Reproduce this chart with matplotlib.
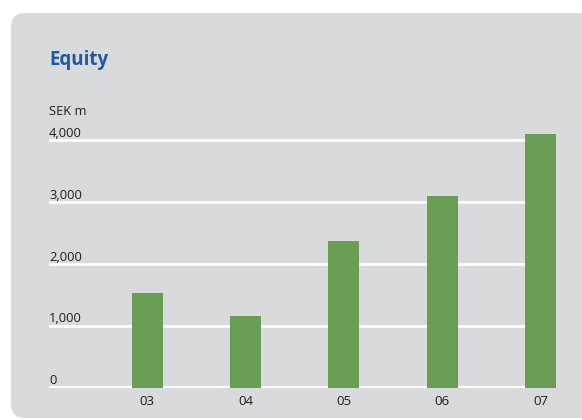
"""Equity bar chart on a rounded grey panel."""

import matplotlib.pyplot as plt
import numpy as np
from matplotlib.patches import FancyBboxPatch
from matplotlib.transforms import IdentityTransform, blended_transform_factory

plt.rcParams["font.family"] = ["Open Sans", "DejaVu Sans"]

years = ["03", "04", "05", "06", "07"]
equity = [1535, 1160, 2375, 3100, 4105]
y_ticks = [0, 1000, 2000, 3000, 4000]
y_labels = ["0", "1,000", "2,000", "3,000", "4,000"]

PANEL = "#d9dadc"
GREEN = "#6a9e55"
BLUE = "#1d5b9f"
TEXT = "#1e1e1e"

fig = plt.figure(figsize=(5.82, 4.2), dpi=100)
fig.patch.set_facecolor("white")

# grey panel, rounded on the left, running off the right edge
panel = FancyBboxPatch((11, 2), 620, 405, boxstyle="round,pad=0,rounding_size=14",
                       transform=IdentityTransform(), facecolor=PANEL, edgecolor="none",
                       zorder=-10)
fig.patches.append(panel)

ax = fig.add_axes([49 / 582, 32.3 / 420, 507 / 582, 0.618])
ax.set_facecolor("none")
for s in ax.spines.values():
    s.set_visible(False)

width = 0.315
x = np.arange(len(years))
ax.bar(x, equity, width=width, color=GREEN, zorder=3)
ax.set_xlim(-1.0, len(years) - 1 + width / 2)
ax.set_ylim(0, 4200)

for t in y_ticks:
    ax.axhline(t, color="white", lw=3.0 if t == 0 else 2.0, zorder=2)

ax.set_yticks([])
ax.set_xticks(x, years)
ax.tick_params(axis="x", length=0, pad=5, labelsize=9.5, labelcolor=TEXT)

trans = blended_transform_factory(ax.transAxes, ax.transData)
for t, lab in zip(y_ticks, y_labels):
    ax.annotate(lab, (0, t), xycoords=trans, xytext=(0, 2.5), textcoords="offset points",
                ha="left", va="baseline", fontsize=9.3, color=TEXT)

fig.text(49 / 582, 1 - 115 / 420, "SEK m", ha="left", va="baseline", fontsize=9.3, color=TEXT)
fig.text(49 / 582, 1 - 65 / 420, "Equity", ha="left", va="baseline", fontsize=13.5,
         fontweight="bold", color=BLUE)

fig.savefig("out.png", dpi=100, facecolor=fig.get_facecolor())
